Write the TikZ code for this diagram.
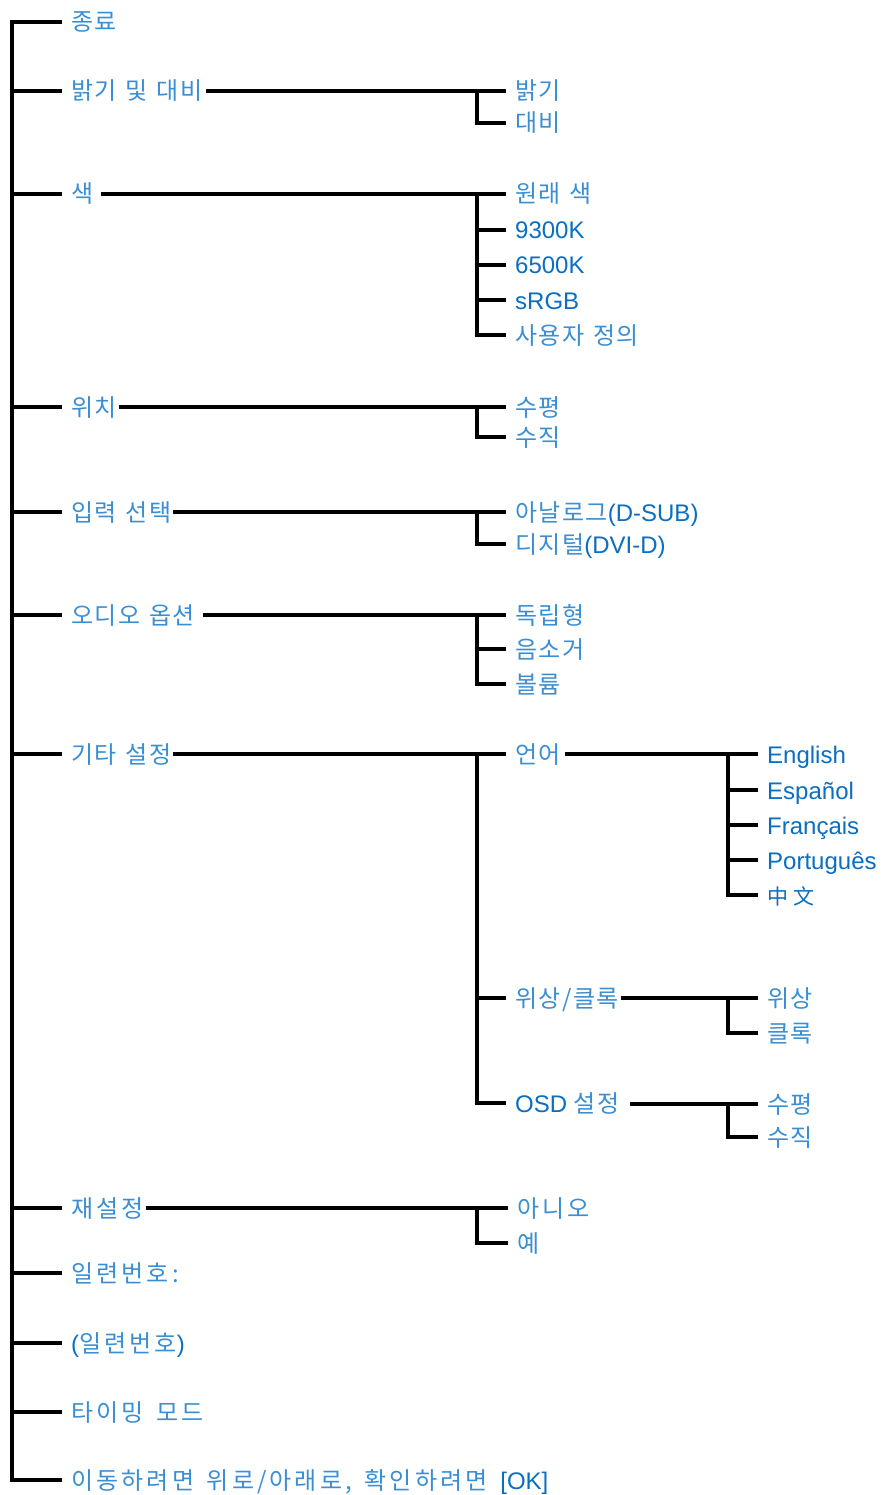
\documentclass[tikz,border=0pt]{standalone}
\usepackage{fontspec}
\setmainfont{Liberation Sans}
\newfontfamily\krfont{Noto Sans CJK KR}[LetterSpace=6,WordSpace=1.3]
\newfontfamily\krwide{Noto Sans CJK KR}[LetterSpace=13,WordSpace=1.5]
\newfontfamily\zhfont{Noto Sans CJK SC}[LetterSpace=25]
\definecolor{latblue}{HTML}{0A6FC2}
\definecolor{krblue}{HTML}{3A8ED3}
\newcommand\K[1]{{\krfont\fontsize{24}{28}\selectfont\color{krblue}#1}}
\newcommand\KW[1]{{\krwide\fontsize{24}{28}\selectfont\color{krblue}#1}}
\newcommand\mainlab[3]{\coordinate (#1-s) at (12,#2); \coordinate (#1-e) at (62,#2); \node[lab] (#1) at (71,{#2+9}) {#3};}
\newcommand\sublab[4]{\coordinate (#1-e) at ({#2-9},#3); \node[lab] (#1) at (#2,{#3+9}) {#4};}
\begin{document}
\begin{tikzpicture}[x=1pt,y=-1pt,
  lab/.style={anchor=base west, inner sep=0pt, text=latblue, font=\fontsize{24}{28}\selectfont},
  ln/.style={line width=3.1pt, line cap=butt, line join=miter, black}]
\fill[white] (0,0) rectangle (881,1495);
\useasboundingbox (0,0) rectangle (881,1495);
% main items
\mainlab{m1}{22}{\K{종료}}
\mainlab{m2}{91}{\K{밝기 및 대비}}
\mainlab{m3}{194}{\K{색}}
\mainlab{m4}{407}{\K{위치}}
\mainlab{m5}{512}{\K{입력 선택}}
\mainlab{m6}{615}{\K{오디오 옵션}}
\mainlab{m7}{754}{\K{기타 설정}}
\mainlab{m8}{1208}{\KW{재설정}}
\mainlab{m9}{1273}{\KW{일련번호:}}
\mainlab{m10}{1343}{(\KW{일련번호})}
\mainlab{m11}{1412}{\KW{타이밍 모드}}
\mainlab{m12}{1480}{\KW{이동하려면 위로/아래로, 확인하려면 }[OK]}
% trunk
\draw[ln] (m1-e) -- (m1-s) -- (m12-s) -- (m12-e);
\foreach \m in {m2,m3,m4,m5,m6,m7,m8,m9,m10,m11} \draw[ln] (\m-s) -- (\m-e);
% level-2 labels
\sublab{a1}{515}{91}{\K{밝기}}
\sublab{a2}{515}{123}{\K{대비}}
\sublab{b1}{515}{194}{\K{원래 색}}
\sublab{b2}{515}{230}{9300K}
\sublab{b3}{515}{265}{6500K}
\sublab{b4}{515}{300}{sRGB}
\sublab{b5}{515}{335}{\K{사용자 정의}}
\sublab{c1}{515}{407}{\K{수평}}
\sublab{c2}{515}{437}{\K{수직}}
\sublab{d1}{515}{512}{\K{아날로그}(D-SUB)}
\sublab{d2}{515}{544}{\K{디지털}(DVI-D)}
\sublab{e1}{515}{615}{\K{독립형}}
\sublab{e2}{515}{649}{\K{음소거}}
\sublab{e3}{515}{684}{\K{볼륨}}
\sublab{f1}{515}{754}{\K{언어}}
\sublab{f2}{515}{998}{\K{위상/클록}}
\sublab{f3}{515}{1103}{OSD \K{설정}}
\sublab{g1}{517}{1208}{\KW{아니오}}
\sublab{g2}{517}{1243}{\KW{예}}
% level-3 labels
\sublab{h1}{767}{754}{English}
\sublab{h2}{767}{790}{Español}
\sublab{h3}{767}{825}{Français}
\sublab{h4}{767}{860}{Português}
\sublab{h5}{767}{895}{{\zhfont\fontsize{21}{26}\selectfont 中文}}
\sublab{i1}{767}{998}{\K{위상}}
\sublab{i2}{767}{1033}{\K{클록}}
\sublab{k1}{767}{1104}{\K{수평}}
\sublab{k2}{767}{1137}{\K{수직}}
% junctions
\coordinate (jm2) at (477,91);
\coordinate (jm3) at (477,194);
\coordinate (jm4) at (477,407);
\coordinate (jm5) at (477,512);
\coordinate (jm6) at (477,615);
\coordinate (jm7) at (477,754);
\coordinate (jm8) at (477,1208);
\coordinate (jf1) at (728,754);
\coordinate (jf2) at (728,998);
\coordinate (jf3) at (728,1104);
% level-1 to level-2 connectors
\draw[ln] ([xshift=4pt]m2.east |- a1-e) -- (a1-e);
\draw[ln] (jm2) |- (a2-e);
\draw[ln] ([xshift=8pt]m3.east |- b1-e) -- (b1-e);
\draw[ln] (jm3) |- (b5-e);
\foreach \c in {b2,b3,b4} \draw[ln] (jm3 |- \c-e) -- (\c-e);
\draw[ln] ([xshift=2pt]m4.east |- c1-e) -- (c1-e);
\draw[ln] (jm4) |- (c2-e);
\draw[ln] ([xshift=2pt]m5.east |- d1-e) -- (d1-e);
\draw[ln] (jm5) |- (d2-e);
\draw[ln] ([xshift=8pt]m6.east |- e1-e) -- (e1-e);
\draw[ln] (jm6) |- (e3-e);
\draw[ln] (jm6 |- e2-e) -- (e2-e);
\draw[ln] ([xshift=2pt]m7.east |- f1-e) -- (f1-e);
\draw[ln] (jm7) |- (f3-e);
\draw[ln] (jm7 |- f2-e) -- (f2-e);
\draw[ln] ([xshift=2pt]m8.east |- g1-e) -- (g1-e);
\draw[ln] (jm8) |- (g2-e);
% level-2 to level-3 connectors
\draw[ln] ([xshift=4pt]f1.east |- h1-e) -- (h1-e);
\draw[ln] (jf1) |- (h5-e);
\foreach \c in {h2,h3,h4} \draw[ln] (jf1 |- \c-e) -- (\c-e);
\draw[ln] ([xshift=2pt]f2.east |- i1-e) -- (i1-e);
\draw[ln] (jf2) |- (i2-e);
\draw[ln] ([xshift=10pt]f3.east |- k1-e) -- (k1-e);
\draw[ln] (jf3) |- (k2-e);
\end{tikzpicture}
\end{document}
